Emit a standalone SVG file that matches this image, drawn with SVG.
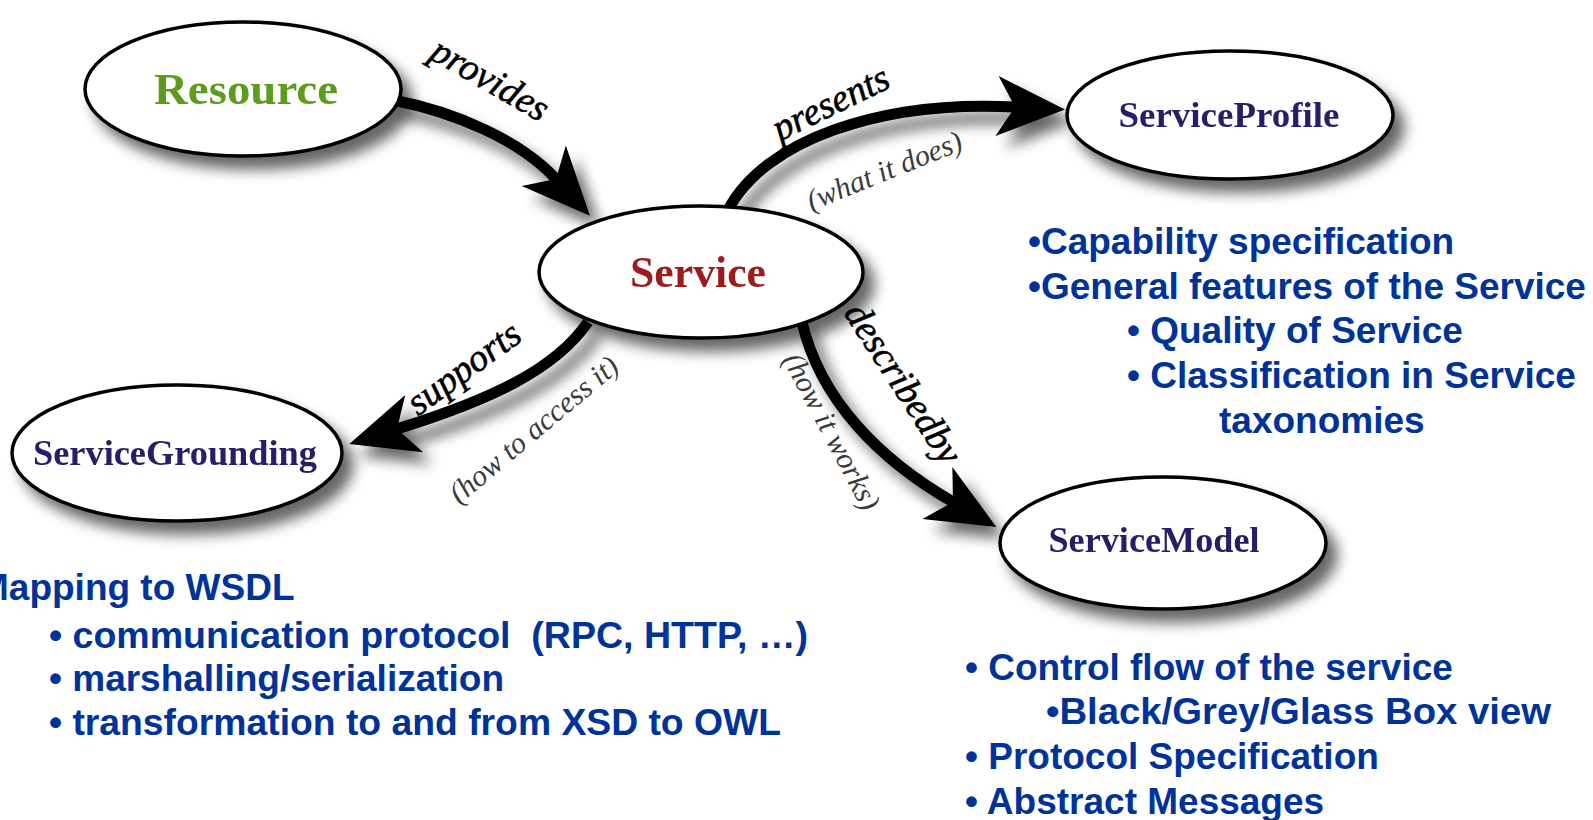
<svg xmlns="http://www.w3.org/2000/svg" width="1593" height="820" viewBox="0 0 1593 820">
  <style>
    .node ellipse { fill: #ffffff; stroke: #000000; stroke-width: 3.5; }
    .nlabel { font-family: "Liberation Serif", "Times New Roman", serif; font-weight: bold; text-anchor: middle; }
    .sub { fill: #2a1b66; font-size: 36px; }
    .edge { fill: none; stroke: #000000; stroke-width: 11; stroke-linecap: butt; marker-end: url(#head); }
    .rel { font-family: "Liberation Serif", "Times New Roman", serif; font-style: italic; font-size: 38px; fill: #000000; text-anchor: middle; stroke: #000000; stroke-width: 0.6; }
    .note { font-family: "Liberation Serif", "Times New Roman", serif; font-style: italic; font-size: 30px; fill: #3a3a3a; text-anchor: middle; }
    .info { font-family: "Liberation Sans", Arial, sans-serif; font-weight: bold; font-size: 37px; fill: #003399; white-space: pre; }
  </style>
  <defs>
    <filter id="shadow" x="-20%" y="-30%" width="150%" height="170%">
      <feGaussianBlur in="SourceAlpha" stdDeviation="7"/>
      <feOffset dx="10" dy="12" result="off"/>
      <feComponentTransfer><feFuncA type="linear" slope="0.6"/></feComponentTransfer>
      <feMerge><feMergeNode/><feMergeNode in="SourceGraphic"/></feMerge>
    </filter>
    <marker id="head" markerUnits="userSpaceOnUse" markerWidth="120" markerHeight="120" orient="auto" refX="0" refY="0" overflow="visible">
      <path d="M -18 -30 L 50 0 L -18 30 L 0 0 Z" fill="#000000"/>
    </marker>
  </defs>

  <rect x="0" y="0" width="1593" height="820" fill="#ffffff"/>

  <!-- connectors -->
  <g id="connectors">
    <g filter="url(#shadow)">
      <path id="e-provides" class="edge" d="M 393 100 C 455 112, 520 140, 556 179"/>
      <path id="e-presents" class="edge" d="M 728 210 C 765 140, 880 100, 1015 107"/>
      <path id="e-supports" class="edge" d="M 588 322 C 555 370, 490 400, 397 429"/>
      <path id="e-describedby" class="edge" d="M 802 322 C 820 400, 880 460, 953 502"/>
    </g>
    <text class="rel" transform="translate(484 90) rotate(30)">provides</text>
    <text class="rel" transform="translate(836 114) rotate(-26)">presents</text>
    <text class="note" transform="translate(888 180) rotate(-22)">(what it does)</text>
    <text class="rel" transform="translate(471 378) rotate(-36)">supports</text>
    <text class="note" transform="translate(540 437) rotate(-40)">(how to access it)</text>
    <text class="rel" transform="translate(893 390) rotate(57)">describedby</text>
    <text class="note" transform="translate(823 436) rotate(62)">(how it works)</text>
  </g>

  <!-- nodes -->
  <g id="resource" class="node" filter="url(#shadow)">
    <ellipse cx="243" cy="89" rx="158" ry="67"/>
    <text class="nlabel" x="246" y="104" font-size="44" fill="#5b9c1c" textLength="184" lengthAdjust="spacingAndGlyphs">Resource</text>
  </g>
  <g id="service" class="node" filter="url(#shadow)">
    <ellipse cx="701" cy="272" rx="162" ry="66"/>
    <text class="nlabel" x="698" y="287" font-size="44" fill="#9c1a1a" textLength="136" lengthAdjust="spacingAndGlyphs">Service</text>
  </g>
  <g id="serviceprofile" class="node" filter="url(#shadow)">
    <ellipse cx="1230" cy="115" rx="163" ry="64"/>
    <text class="nlabel sub" x="1229" y="127" textLength="221" lengthAdjust="spacingAndGlyphs">ServiceProfile</text>
  </g>
  <g id="servicegrounding" class="node" filter="url(#shadow)">
    <ellipse cx="177" cy="453" rx="165" ry="68"/>
    <text class="nlabel sub" x="175" y="465" textLength="284" lengthAdjust="spacingAndGlyphs">ServiceGrounding</text>
  </g>
  <g id="servicemodel" class="node" filter="url(#shadow)">
    <ellipse cx="1163" cy="543" rx="163" ry="66"/>
    <text class="nlabel sub" x="1154" y="552" textLength="211" lengthAdjust="spacingAndGlyphs">ServiceModel</text>
  </g>

  <!-- ServiceProfile notes -->
  <g id="profile-notes">
    <text class="info" x="1028" y="254">•Capability specification</text>
    <text class="info" x="1028" y="299">•General features of the Service</text>
    <text class="info" x="1127" y="343">• Quality of Service</text>
    <text class="info" x="1127" y="388">• Classification in Service</text>
    <text class="info" x="1219" y="433">taxonomies</text>
  </g>

  <!-- ServiceGrounding notes -->
  <g id="grounding-notes">
    <text class="info" x="-22" y="600">Mapping to WSDL</text>
    <text class="info" x="49" y="648" textLength="759" lengthAdjust="spacingAndGlyphs">• communication protocol  (RPC, HTTP, …)</text>
    <text class="info" x="49" y="691">• marshalling/serialization</text>
    <text class="info" x="49" y="735" textLength="732" lengthAdjust="spacingAndGlyphs">• transformation to and from XSD to OWL</text>
  </g>

  <!-- ServiceModel notes -->
  <g id="model-notes">
    <text class="info" x="965" y="680">• Control flow of the service</text>
    <text class="info" x="1046" y="724" textLength="505" lengthAdjust="spacingAndGlyphs">•Black/Grey/Glass Box view</text>
    <text class="info" x="965" y="769">• Protocol Specification</text>
    <text class="info" x="965" y="814">• Abstract Messages</text>
  </g>
</svg>
